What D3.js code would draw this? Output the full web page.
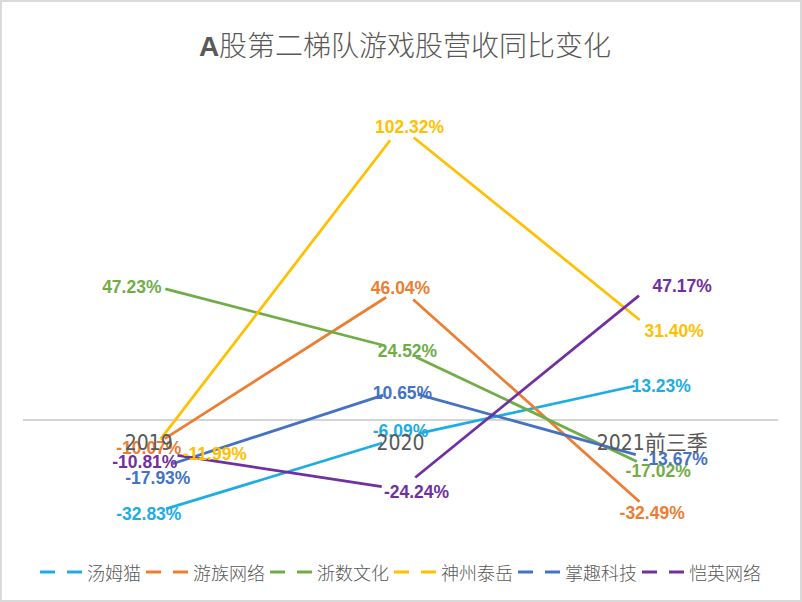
<!DOCTYPE html>
<html>
<head>
<meta charset="utf-8">
<script src="https://cdn.jsdelivr.net/npm/d3@7"></script>
<style>
  body { margin: 0; background: #fff; }
  svg { display: block; }
</style>
</head>
<body>
<svg id="chart"></svg>
<script>
const width = 802;
const height = 602;

// data (year-on-year revenue change, %)
const categories = ['2019', '2020', '2021前三季'];
const seriesNames = ['汤姆猫', '游族网络', '浙数文化', '神州泰岳', '掌趣科技', '恺英网络'];
const tomcat   = [-32.83, -6.09, 13.23];
const youzu    = [-10.07, 46.04, -32.49];
const zheshu   = [47.23, 24.52, -17.02];
const shenzhou = [-11.99, 102.32, 31.40];
const zhangqu  = [-17.93, 10.65, -13.67];
const kaiying  = [-10.81, -24.24, 47.17];
const seriesValues = [tomcat, youzu, zheshu, shenzhou, zhangqu, kaiying];

const colors = ['#1cade4', '#ed7d31', '#70ad47', '#ffc000', '#4472c4', '#7030a0'];

// label nudges in px, the original had hand-placed labels
const labelShift = [
  [[0, 0], [0, -6], [9, 4]],
  [[0, -1], [0, 0], [0, 0]],
  [[-17, 2], [7, 1], [6, 2]],
  [[66, 0], [9, 0], [22, 1]],
  [[9, 7], [2, 3], [23, 0]],
  [[-4, 11], [16, 2], [30, 1]]
];
// lines stop short of each point (px)
const lineGap = [
  [18, 19, 18],
  [19, 17, 17],
  [17, 17, 17],
  [19, 17, 16],
  [25, 18, 17],
  [29, 19, 17]
];

const svg = d3.select('#chart')
  .attr('width', width)
  .attr('height', height);

svg.append('rect')
  .attr('x', 1).attr('y', 1)
  .attr('width', width - 2).attr('height', height - 2)
  .attr('fill', '#fff')
  .attr('stroke', '#d9d9d9')
  .attr('stroke-width', 2);

const x = d3.scaleBand().domain(categories).range([23, 778]);
const y = d3.scaleLinear().domain([-60, 120]).range([592, 76.1]);
const cx = c => x(c) + x.bandwidth() / 2;
const fmt = v => v.toFixed(2) + '%';

// title
const title = svg.append('text')
  .attr('x', 405).attr('y', 56)
  .attr('text-anchor', 'middle')
  .attr('fill', '#595959')
  .style('font-size', '28px');
title.append('tspan')
  .text('A')
  .style('font-family', '"Liberation Sans", Arial, sans-serif')
  .style('font-weight', 'bold');
title.append('tspan')
  .text('股第二梯队游戏股营收同比变化')
  .style('font-family', '"Noto Sans CJK SC", sans-serif')
  .style('font-weight', 300);

// zero line
svg.append('line')
  .attr('x1', 23).attr('x2', 778)
  .attr('y1', y(0)).attr('y2', y(0))
  .attr('stroke', '#d4d4d4')
  .attr('stroke-width', 2);

const line = d3.line();

seriesValues.forEach((vals, s) => {
  const pts = vals.map((v, i) => [cx(categories[i]), y(v)]);
  for (let i = 0; i < pts.length - 1; i++) {
    const [x0, y0] = pts[i];
    const [x1, y1] = pts[i + 1];
    const len = Math.hypot(x1 - x0, y1 - y0);
    const ux = (x1 - x0) / len, uy = (y1 - y0) / len;
    const g0 = lineGap[s][i], g1 = lineGap[s][i + 1];
    svg.append('path')
      .attr('d', line([[x0 + ux * g0, y0 + uy * g0], [x1 - ux * g1, y1 - uy * g1]]))
      .attr('fill', 'none')
      .attr('stroke', colors[s])
      .attr('stroke-width', 2.75)
      .attr('stroke-linecap', 'butt');
  }
});

// data labels
seriesValues.forEach((vals, s) => {
  svg.selectAll(null)
    .data(vals)
    .enter()
    .append('text')
    .attr('x', (d, i) => cx(categories[i]) + labelShift[s][i][0])
    .attr('y', (d, i) => y(d) + labelShift[s][i][1])
    .attr('text-anchor', 'middle')
    .attr('dominant-baseline', 'central')
    .attr('fill', colors[s])
    .style('font-family', '"Liberation Sans", Arial, sans-serif')
    .style('font-weight', 'bold')
    .style('font-size', '17.5px')
    .text(d => fmt(d));
});

// category labels sit on top of everything
svg.selectAll('.cat')
  .data(categories)
  .enter()
  .append('text')
  .attr('class', 'cat')
  .attr('x', d => cx(d))
  .attr('y', 443)
  .attr('text-anchor', 'middle')
  .attr('dominant-baseline', 'central')
  .attr('fill', '#595959')
  .style('font-family', '"Liberation Sans Narrow", "DejaVu Sans Condensed", "Noto Sans CJK SC", sans-serif')
  .style('font-size', '21px')
  .text(d => d);

// legend
let lx = 40;
const ly = 572;
seriesNames.forEach((name, s) => {
  svg.append('line')
    .attr('x1', lx).attr('x2', lx + 42)
    .attr('y1', ly).attr('y2', ly)
    .attr('stroke', colors[s])
    .attr('stroke-width', 3)
    .attr('stroke-dasharray', '15,12');
  const t = svg.append('text')
    .attr('x', lx + 47)
    .attr('y', ly)
    .attr('dominant-baseline', 'central')
    .attr('fill', '#595959')
    .style('font-family', '"Noto Sans CJK SC", sans-serif')
    .style('font-weight', 300)
    .style('font-size', '18px')
    .text(name);
  lx += 47 + t.node().getComputedTextLength() + 5;
});
</script>
</body>
</html>
